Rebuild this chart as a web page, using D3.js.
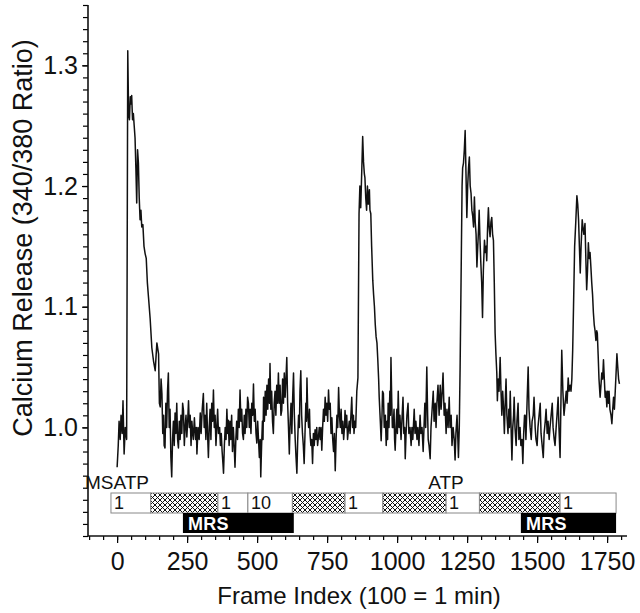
<!DOCTYPE html>
<html>
<head>
<meta charset="utf-8">
<script src="https://cdn.jsdelivr.net/npm/d3@7"></script>
<style>
  html, body { margin: 0; padding: 0; background: #fff; }
  svg { display: block; font-family: "Liberation Sans", Arial, sans-serif; }
</style>
</head>
<body>
<svg id="chart" width="640" height="613"></svg>
<script>
// trace: frame index and 340/380 ratio
const frames = [
  0, 4, 7, 11, 14, 18, 21, 25, 29, 34, 38, 41, 44, 47, 49, 52, 55, 58, 61, 64,
  67, 70, 73, 76, 79, 82, 85, 88, 92, 96, 100, 104, 108, 112, 118, 124, 130, 136, 142, 148, 151,
  154, 157, 160, 163, 166, 168, 171, 174, 177, 180, 183, 186, 189, 192, 195, 198, 201, 204, 207, 210,
  213, 216, 219, 222, 225, 228, 231, 234, 237, 240, 243, 246, 249, 252, 255, 258, 261, 264, 267, 270,
  272, 276, 280, 283, 285, 289, 293, 297, 300, 304, 308, 311, 314, 317, 320, 323, 326, 329, 332, 335,
  338, 341, 344, 347, 350, 353, 356, 359, 362, 366, 369, 372, 375, 378, 380, 383, 386, 389, 392, 395,
  397, 400, 403, 406, 409, 412, 415, 418, 421, 424, 427, 430, 433, 436, 439, 442, 445, 448, 451, 454,
  457, 460, 463, 466, 469, 472, 475, 478, 481, 484, 487, 490, 493, 496, 499, 502, 505, 508, 511, 513,
  516, 519, 521, 523, 526, 529, 532, 535, 538, 541, 544, 546, 549, 552, 555, 558, 561, 564, 567, 570,
  573, 576, 579, 582, 585, 588, 591, 594, 597, 600, 603, 606, 609, 612, 615, 618, 621, 624, 627, 630,
  633, 636, 639, 642, 645, 648, 651, 653, 656, 659, 662, 665, 668, 671, 674, 676, 678, 681, 684, 687,
  689, 692, 695, 698, 701, 704, 707, 710, 713, 716, 719, 722, 725, 728, 731, 734, 737, 740, 743, 746,
  749, 752, 755, 758, 761, 764, 767, 770, 773, 776, 779, 782, 785, 788, 791, 794, 797, 800, 803, 806,
  809, 812, 814, 817, 820, 823, 826, 829, 832, 835, 838, 841, 844, 846, 849, 852, 856, 860,
  864, 867, 870, 874, 877, 880, 883, 885, 888, 891, 894, 897, 901, 903, 906, 909, 913, 916, 919, 922,
  925, 928, 931, 934, 936, 940, 943, 946, 948, 951, 954, 958, 961, 964, 966, 968, 971, 974, 976, 978,
  981, 983, 986, 989, 991, 993,
  996, 999, 1001, 1004, 1007, 1010, 1014, 1017, 1021, 1024, 1027, 1029, 1032, 1035, 1039, 1042, 1046, 1050, 1053, 1056,
  1061, 1064, 1067, 1071, 1074, 1078, 1082, 1085, 1089, 1093, 1096, 1099, 1102, 1106, 1109, 1111, 1114, 1118, 1121, 1125,
  1129, 1132, 1136, 1139, 1142, 1146, 1150, 1154, 1157, 1161, 1164, 1168, 1171, 1175, 1178, 1182, 1186, 1189, 1193, 1196,
  1200, 1204, 1207, 1210, 1214, 1217, 1219, 1222,
  1225, 1232, 1234, 1237, 1240, 1243, 1246, 1249, 1252, 1255, 1258, 1261, 1264, 1267, 1270, 1273, 1276, 1279, 1282, 1285,
  1288, 1291, 1293, 1296, 1299, 1302, 1305, 1308, 1312, 1315, 1318, 1320, 1323, 1326, 1329, 1332, 1335, 1338, 1341, 1344,
  1347, 1350, 1353, 1356, 1358, 1361, 1364, 1368, 1371, 1374, 1377, 1380,
  1383, 1386, 1389, 1392, 1396, 1399, 1401, 1404, 1407, 1410, 1413, 1416, 1418, 1421, 1425, 1428, 1432, 1435, 1439, 1442,
  1446, 1449, 1452, 1455, 1457, 1460, 1464, 1468, 1471, 1475, 1479, 1482, 1486, 1489, 1493, 1496, 1500, 1503, 1507, 1511,
  1514, 1518, 1522, 1525, 1529, 1532, 1536, 1539, 1543, 1546, 1550, 1554, 1557, 1561, 1564, 1568, 1571, 1575, 1578, 1582,
  1585, 1588, 1592, 1596, 1600, 1604, 1607, 1611, 1614, 1618, 1621, 1624, 1627, 1630, 1634, 1638, 1642, 1645, 1648, 1651,
  1654, 1657, 1661, 1664, 1667, 1671, 1674, 1677, 1680, 1683, 1686, 1689, 1692, 1695, 1698, 1701, 1704, 1707, 1710, 1713,
  1715, 1718, 1721, 1725, 1728, 1731, 1734, 1737, 1740, 1743, 1746, 1749, 1752, 1755, 1757, 1760, 1764, 1767, 1770, 1773,
  1776, 1779, 1782, 1785, 1788, 1791, 1794
];
const ratio = [
  0.967, 0.985, 1.005, 0.99, 1.01, 0.995, 1.022, 0.978, 1.0, 0.99, 1.312, 1.26, 1.255, 1.274, 1.268, 1.275, 1.255, 1.26, 1.25, 1.24,
  1.215, 1.186, 1.23, 1.219, 1.19, 1.172, 1.18, 1.166, 1.168, 1.15, 1.144, 1.14, 1.12, 1.108, 1.09, 1.066, 1.055, 1.047, 1.07, 1.061, 1.02,
  1.017, 1.04, 1.028, 0.995, 1.01, 0.985, 0.983, 1.02, 1.0, 1.03, 1.045, 1.0, 1.015, 0.975, 0.959, 0.99, 1.005, 0.985, 1.012, 0.995,
  1.02, 0.99, 0.983, 1.005, 0.99, 1.01, 0.995, 1.02, 1.014, 0.985, 1.0, 1.01, 0.992, 1.005, 1.022, 1.0, 1.01, 0.985, 1.005, 0.995,
  0.99, 1.008, 0.99, 1.0, 0.978, 1.0, 0.99, 1.012, 0.995, 1.015, 1.028, 1.0, 1.01, 0.99, 1.02, 0.995, 0.975, 1.0, 1.015, 0.99,
  1.02, 1.005, 1.031, 1.0, 1.01, 0.985, 1.0, 1.015, 0.995, 1.0, 0.985, 0.995, 0.98, 0.97, 0.962, 0.985, 1.0, 0.99, 1.015, 0.995,
  1.006, 0.985, 1.005, 0.99, 1.01, 0.98, 1.0, 0.985, 0.967, 0.99, 1.005, 0.99, 1.015, 1.0, 1.031, 1.005, 1.015, 0.995, 0.99, 1.01,
  0.995, 1.015, 1.0, 1.025, 1.02, 1.0, 1.015, 0.995, 1.02, 1.01, 1.036, 1.005, 1.015, 0.995, 0.987, 1.005, 0.99, 0.975, 0.99, 0.959,
  0.985, 1.005, 0.99, 1.025, 1.005, 1.03, 1.01, 1.035, 1.015, 1.04, 1.02, 1.053, 1.015, 1.03, 1.005, 0.995, 1.02, 1.03, 1.01, 1.035,
  1.02, 1.045, 1.02, 1.035, 1.01, 1.014, 1.04, 1.02, 1.045, 1.025, 1.04, 1.058, 1.02, 1.0, 0.978, 1.005, 1.02, 0.995, 1.025, 1.045,
  1.01, 0.99, 0.975, 0.962, 0.99, 1.01, 1.0, 1.03, 1.047, 1.01, 0.995, 0.985, 0.97, 0.995, 1.02, 1.005, 1.041, 1.01, 1.0, 1.015,
  0.995, 0.985, 0.99, 0.97, 0.995, 0.985, 0.998, 0.99, 1.0, 0.985, 0.992, 1.0, 0.99, 1.0, 0.981, 1.0, 1.015, 1.005, 1.025, 1.01,
  1.02, 1.005, 1.031, 1.015, 1.02, 0.995, 1.008, 0.99, 0.98, 0.995, 0.964, 0.99, 1.01, 1.0, 1.033, 1.01, 1.0, 1.015, 0.995, 1.005,
  0.99, 1.0, 1.014, 1.0, 1.01, 0.99, 0.998, 1.005, 0.995, 1.01, 1.025, 1.0, 1.01, 0.995, 1.005, 1.0, 1.03, 1.041,
  1.177, 1.2, 1.182, 1.215, 1.241, 1.22, 1.21, 1.207, 1.19, 1.18, 1.2, 1.185, 1.197, 1.18, 1.177, 1.15, 1.122, 1.11, 1.1, 1.085,
  1.075, 1.07, 1.056, 1.04, 1.025, 1.005, 0.989, 1.01, 1.03, 1.028, 1.0, 1.01, 0.985, 1.005, 0.99, 1.02, 1.0, 1.03, 1.01, 1.058,
  1.02, 1.0, 1.0, 1.015, 0.99, 0.981,
  1.0, 1.015, 0.995, 1.03, 1.0, 1.01, 0.99, 1.005, 1.025, 0.995, 1.0, 0.974, 0.995, 1.01, 1.02, 0.995, 1.0, 0.985, 1.0, 0.99,
  1.015, 0.995, 1.005, 0.99, 1.0, 0.985, 1.01, 0.995, 1.0, 0.98, 1.0, 1.02, 1.0, 1.05, 1.01, 0.99, 0.985, 0.974, 1.0, 1.015,
  1.03, 1.005, 1.02, 1.0, 1.02, 1.035, 1.01, 1.035, 1.015, 1.03, 1.045, 1.01, 1.02, 0.995, 1.015, 1.0, 1.025, 1.0, 1.01, 0.985,
  1.0, 0.99, 0.973, 0.995, 1.01, 0.99, 0.975, 1.0,
  1.05, 1.2, 1.215, 1.219, 1.23, 1.246, 1.21, 1.174, 1.2, 1.215, 1.224, 1.2, 1.194, 1.18, 1.175, 1.166, 1.191, 1.17, 1.16, 1.133,
  1.15, 1.165, 1.18, 1.155, 1.136, 1.12, 1.091, 1.13, 1.155, 1.145, 1.15, 1.138, 1.165, 1.182, 1.165, 1.158, 1.17, 1.174, 1.16, 1.155,
  1.12, 1.078, 1.06, 1.045, 1.022, 1.04, 1.03, 1.058, 1.03, 1.01, 1.03, 1.017,
  0.995, 1.02, 1.04, 1.01, 0.995, 1.015, 1.0, 1.03, 1.0, 0.973, 1.0, 1.01, 1.025, 1.0, 0.985, 1.005, 1.02, 0.99, 1.0, 0.985,
  0.99, 0.97, 0.995, 1.01, 1.01, 0.99, 1.02, 1.05, 1.015, 1.0, 0.99, 1.005, 1.01, 1.025, 1.0, 0.99, 0.985, 1.0, 1.01, 1.02,
  0.995, 0.985, 0.975, 0.995, 1.005, 1.015, 0.995, 1.005, 0.99, 1.0, 1.01, 1.02, 1.0, 0.99, 0.985, 1.0, 1.01, 1.025, 1.0, 0.975,
  1.02, 1.064, 1.03, 1.01, 1.02, 1.03, 1.02, 1.041, 1.03, 1.035, 1.03, 1.04, 1.064, 1.1, 1.15, 1.17, 1.192, 1.185, 1.172, 1.15,
  1.128, 1.15, 1.172, 1.165, 1.16, 1.169, 1.14, 1.114, 1.13, 1.153, 1.14, 1.145, 1.133, 1.12, 1.11, 1.095, 1.085, 1.08, 1.072, 1.08,
  1.078, 1.06, 1.04, 1.025, 1.035, 1.045, 1.04, 1.056, 1.04, 1.025, 1.03, 1.017, 1.03, 1.02, 1.03, 1.015, 1.01, 1.003, 1.015, 1.025,
  1.015, 1.03, 1.045, 1.061, 1.05, 1.04, 1.036
];

const xTickValues = [0, 250, 500, 750, 1000, 1250, 1500, 1750];
const yTickValues = [1.0, 1.1, 1.2, 1.3];

// perfusion protocol boxes (frame ranges)
const stepStart = [-22, 120, 360, 467, 626, 814, 949, 1175, 1294, 1582];
const stepEnd   = [120, 360, 467, 626, 814, 949, 1175, 1294, 1582, 1782];
const stepHatch = [false, true, false, false, true, false, true, false, true, false];
const stepLabel = ["1", "", "1", "10", "", "1", "", "1", "", "1"];
const mrsStart = [235, 1442];
const mrsEnd   = [631, 1782];
const drugNames = ["MSATP", "ATP"];
const drugAt    = [-115, 1111];

const svg = d3.select("#chart");

const x = d3.scaleLinear().domain([-104, 1821]).range([88, 627]);
const y = d3.scaleLinear().domain([0.91, 1.35]).range([536, 5]);

const defs = svg.append("defs");
const pat = defs
  .append("pattern")
  .attr("id", "hatch")
  .attr("patternUnits", "userSpaceOnUse")
  .attr("width", 5)
  .attr("height", 5);
pat.append("rect").attr("width", 5).attr("height", 5).attr("fill", "#fff");
pat
  .append("path")
  .attr("d", "M0,0L5,5M0,5L5,0")
  .attr("stroke", "#111")
  .attr("stroke-width", 1);

// y axis: minor ticks every 0.01, labels on the tenths
const yMinor = d3.range(91, 136).map((d) => d / 100);
svg
  .append("g")
  .attr("transform", "translate(88,0)")
  .call(d3.axisLeft(y).tickValues(yMinor).tickSize(5).tickFormat(""))
  .call((g) => g.select(".domain").remove())
  .selectAll("line")
  .attr("stroke-width", 1.2);

svg
  .append("g")
  .attr("transform", "translate(88,0)")
  .call(d3.axisLeft(y).tickValues(yTickValues).tickSize(6).tickPadding(4).tickFormat(d3.format(".1f")))
  .call((g) => g.select(".domain").remove())
  .call((g) => g.selectAll("line").attr("stroke-width", 1.2))
  .call((g) =>
    g.selectAll("text").attr("font-size", 25).attr("fill", "#111").attr("font-family", "Liberation Sans, Arial")
  );

// x axis: minor ticks every 50
const xMinor = d3.range(-100, 1801, 50);
svg
  .append("g")
  .attr("transform", "translate(0,536)")
  .call(d3.axisBottom(x).tickValues(xMinor).tickSize(4).tickFormat(""))
  .call((g) => g.select(".domain").remove())
  .selectAll("line")
  .attr("stroke-width", 1.2);

svg
  .append("g")
  .attr("transform", "translate(0,536)")
  .call(d3.axisBottom(x).tickValues(xTickValues).tickSize(7).tickPadding(9).tickFormat(d3.format("d")))
  .call((g) => g.select(".domain").remove())
  .call((g) => g.selectAll("line").attr("stroke-width", 1.2))
  .call((g) =>
    g.selectAll("text").attr("font-size", 25).attr("fill", "#111").attr("font-family", "Liberation Sans, Arial")
  );

// axis lines
svg.append("line").attr("x1", 88).attr("x2", 88).attr("y1", 5).attr("y2", 536)
  .attr("stroke", "#111").attr("stroke-width", 1.6);
svg.append("line").attr("x1", 88).attr("x2", 627).attr("y1", 536).attr("y2", 536)
  .attr("stroke", "#111").attr("stroke-width", 1.6);

// trace
const pts = frames.map((f, i) => [f, ratio[i]]);
svg
  .append("path")
  .datum(pts)
  .attr("fill", "none")
  .attr("stroke", "#111")
  .attr("stroke-width", 1.5)
  .attr("stroke-linejoin", "round")
  .attr("d", d3.line().x((d) => x(d[0])).y((d) => y(d[1])));

// protocol boxes
const steps = stepStart.map((s, i) => ({ s, e: stepEnd[i], hatch: stepHatch[i], label: stepLabel[i] }));
const stepG = svg.append("g");
stepG
  .selectAll("rect")
  .data(steps)
  .join("rect")
  .attr("x", (d) => x(d.s))
  .attr("y", 493)
  .attr("width", (d) => x(d.e) - x(d.s))
  .attr("height", 20)
  .attr("fill", (d) => (d.hatch ? "url(#hatch)" : "#fff"))
  .attr("stroke", "#888")
  .attr("stroke-width", 1);

stepG
  .selectAll("text")
  .data(steps.filter((d) => d.label))
  .join("text")
  .attr("x", (d) => x(d.s) + 3)
  .attr("y", 509)
  .attr("font-size", 18)
  .attr("fill", "#111")
  .text((d) => d.label);

const mrs = mrsStart.map((s, i) => ({ s, e: mrsEnd[i] }));
const mrsG = svg.append("g");
mrsG
  .selectAll("rect")
  .data(mrs)
  .join("rect")
  .attr("x", (d) => x(d.s))
  .attr("y", 513)
  .attr("width", (d) => x(d.e) - x(d.s))
  .attr("height", 20)
  .attr("fill", "#000");

mrsG
  .selectAll("text")
  .data(mrs)
  .join("text")
  .attr("x", (d) => x(d.s) + 5)
  .attr("y", 530)
  .attr("font-size", 18)
  .attr("font-weight", "bold")
  .attr("letter-spacing", 0.3)
  .attr("fill", "#fff")
  .text("MRS");

svg
  .append("g")
  .selectAll("text")
  .data(drugNames)
  .join("text")
  .attr("x", (d, i) => x(drugAt[i]))
  .attr("y", 489)
  .attr("font-size", 19)
  .attr("fill", "#111")
  .text((d) => d);

// titles
svg
  .append("text")
  .attr("transform", "translate(32,238) rotate(-90)")
  .attr("text-anchor", "middle")
  .attr("font-size", 27)
  .attr("fill", "#111")
  .text("Calcium Release (340/380 Ratio)");

svg
  .append("text")
  .attr("x", 359)
  .attr("y", 604)
  .attr("text-anchor", "middle")
  .attr("font-size", 24)
  .attr("fill", "#111")
  .text("Frame Index (100 = 1 min)");
</script>
</body>
</html>
